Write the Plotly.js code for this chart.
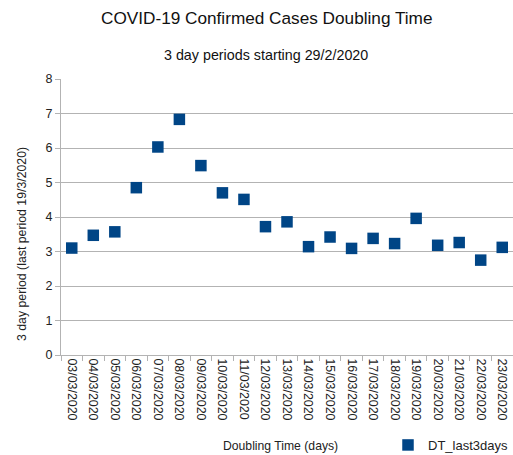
<!DOCTYPE html>
<html>
<head>
<meta charset="utf-8">
<script src="https://cdn.plot.ly/plotly-3.0.1.min.js"></script>
<style>html,body{margin:0;padding:0;background:#fff;}#chart{width:513px;height:455px;}</style>
</head>
<body>
<div id="chart"></div>
<script>
const dates = ["03/03/2020","04/03/2020","05/03/2020","06/03/2020","07/03/2020","08/03/2020","09/03/2020","10/03/2020","11/03/2020","12/03/2020","13/03/2020","14/03/2020","15/03/2020","16/03/2020","17/03/2020","18/03/2020","19/03/2020","20/03/2020","21/03/2020","22/03/2020","23/03/2020"];
const dtLast3days = [3.10,3.47,3.57,4.85,6.03,6.83,5.49,4.70,4.51,3.72,3.86,3.14,3.42,3.09,3.38,3.23,3.96,3.18,3.26,2.75,3.12];
const yTicks = [0,1,2,3,4,5,6,7,8];

const font = "Liberation Sans, Arial, sans-serif";
const W = 513, H = 455, L = 61, T = 79, B = 100;
const PW = W - L, PH = H - T - B;
const trace = {
  x: dates, y: dtLast3days, type: "scatter", mode: "markers", name: "DT_last3days",
  marker: {symbol: "square", size: 11.5, color: "#004586"}
};
const layout = {
  width: W, height: H,
  margin: {l: L, r: 0, t: T, b: B, autoexpand: false},
  paper_bgcolor: "#fff", plot_bgcolor: "#fff",
  font: {family: font, size: 12, color: "#222"},
  xaxis: {
    type: "category", tickson: "boundaries", ticks: "outside", ticklen: 5, tickcolor: "#b3b3b3",
    tickangle: 90, tickfont: {family: font, size: 12.4, color: "#222"}, automargin: false,
    showgrid: false, showline: true, linecolor: "#b3b3b3", linewidth: 1,
    range: [-0.5, dates.length - 0.5]
  },
  yaxis: {
    range: [0, 8], tickvals: yTicks, ticks: "outside", ticklen: 5, tickcolor: "#b3b3b3",
    showgrid: true, gridcolor: "#b3b3b3", gridwidth: 1, zeroline: false, automargin: false,
    showline: true, linecolor: "#b3b3b3",
    tickfont: {family: font, size: 12.5, color: "#222"}
  },
  annotations: [
    {text: "COVID-19 Confirmed Cases Doubling Time", xref: "paper", yref: "paper", x: (266 - L) / PW, y: 1, yshift: T - 18, yanchor: "middle", showarrow: false, font: {family: font, size: 17.2, color: "#111"}},
    {text: "3 day periods starting 29/2/2020", xref: "paper", yref: "paper", x: (266 - L) / PW, y: 1, yshift: T - 55, yanchor: "middle", showarrow: false, font: {family: font, size: 14.3, color: "#111"}},
    {text: "Doubling Time (days)", xref: "paper", yref: "paper", x: (280 - L) / PW, y: 0, yshift: -(446 - (H - B)), yanchor: "middle", showarrow: false, font: {family: font, size: 12.2, color: "#222"}},
    {text: "3 day period (last period 19/3/2020)", xref: "paper", yref: "paper", x: 0, xshift: 22 - L, y: (H - B - 244) / PH, xanchor: "center", yanchor: "middle", textangle: -90, showarrow: false, font: {family: font, size: 12.3, color: "#222"}}
  ],
  showlegend: true,
  legend: {x: 1, xanchor: "right", y: -(445 - (H - B)) / PH, yanchor: "middle", yref: "paper", font: {family: font, size: 13, color: "#222"}, itemwidth: 10, bgcolor: "rgba(0,0,0,0)", borderwidth: 0}
};
Plotly.newPlot("chart", [trace], layout, {displayModeBar: false});
</script>
</body>
</html>
